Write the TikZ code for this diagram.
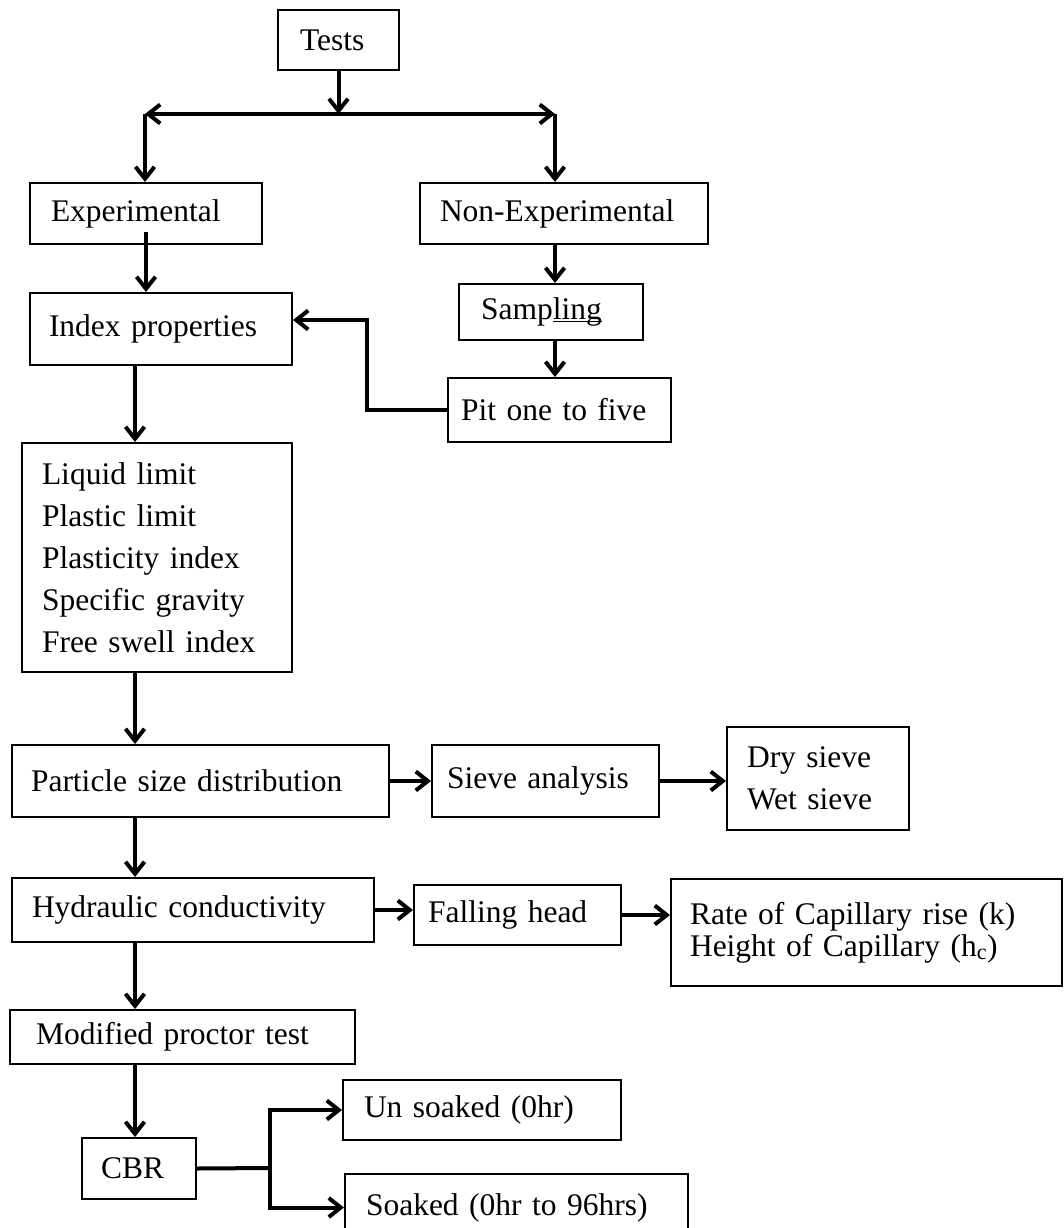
\documentclass[tikz,border=0pt]{standalone}
\usepackage{fontspec}
\setmainfont{Liberation Serif}
\usetikzlibrary{arrows.meta}

\newsavebox{\ulbox}
\newcommand{\ulpart}[1]{\sbox{\ulbox}{#1}\rlap{\rule[-2.5pt]{\wd\ulbox}{0.8pt}}\usebox{\ulbox}}

\tikzset{
  box/.style={draw, line width=2pt, anchor=north west, align=left, inner ysep=0pt},
  arr/.style={line width=4pt, -{Straight Barb[length=12pt,width=19pt]}},
  dbl/.style={line width=4pt, {Straight Barb[length=12pt,width=19pt]}-{Straight Barb[length=12pt,width=19pt]}},
  link/.style={line width=4pt},
}

\begin{document}
\begin{tikzpicture}[x=1pt, y=-1pt, font=\fontsize{31.5}{42}\selectfont]
    \useasboundingbox (0,0) rectangle (1063,1228);

    % boxes
    \node[box, minimum height=60, text width=77, inner xsep=22] (tests) at (277,9) {Tests};
    \node[box, minimum height=61, text width=190, inner xsep=21] (exper) at (29,182) {Experimental};
    \node[box, minimum height=61, text width=248, inner xsep=20] (nonexp) at (419,182) {Non-Experimental};
    \node[box, minimum height=72, text width=224, inner xsep=19] (index) at (29,292) {Index properties};
    \node[box, minimum height=56, text width=140, inner xsep=22] (samp) at (458,283) {Samp\ulpart{ling}};
    \node[box, minimum height=64, text width=197, inner xsep=13] (pit) at (447,377) {Pit one to five};
    \node[box, minimum height=229, text width=230, inner xsep=20] (list) at (21,442)
        {Liquid limit\\Plastic limit\\Plasticity index\\Specific gravity\\Free swell index};
    \node[box, minimum height=72, text width=339, inner xsep=19] (particle) at (11,744) {Particle size distribution};
    \node[box, minimum height=72, text width=197, inner xsep=15] (sieve) at (431,744) {Sieve analysis};
    \node[box, minimum height=103, text width=142, inner xsep=20] (drywet) at (726,726) {Dry sieve\\Wet sieve};
    \node[box, minimum height=64, text width=322, inner xsep=20] (hyd) at (11,877) {Hydraulic conductivity};
    \node[box, minimum height=60, text width=179, inner xsep=14] (fall) at (413,884) {Falling head};
    \node[box, minimum height=107, text width=353, inner xsep=19, font=\fontsize{31.5}{32}\selectfont] (rate) at (670,878)
        {Rate of Capillary rise (k)\\Height of Capillary (h\textsubscript{c})};
    \node[box, minimum height=54, text width=293, inner xsep=26] (mod) at (9,1009) {Modified proctor test};
    \node[box, minimum height=61, text width=76, inner xsep=19] (cbr) at (81,1137) {CBR};
    \node[box, minimum height=60, text width=236, inner xsep=21] (unsoak) at (342,1079) {Un soaked (0hr)};
    \node[box, minimum height=67, text width=301, inner xsep=21] (soak) at (344,1173) {Soaked (0hr to 96hrs)};

    % helper points
    \coordinate (lft) at (145,114);
    \coordinate (rgt) at (555,114);
    \coordinate (bend) at (367,320);
    \coordinate (spine) at (135,0);
    \coordinate (fork) at (270,1168);

    % top split
    \draw[arr] (tests.south) -- (tests.south |- lft);
    \draw[dbl] (lft) -- (rgt);
    \draw[arr] (lft) -- (lft |- exper.north);
    \draw[arr] (rgt) -- (rgt |- nonexp.north);

    % right branch
    \draw[arr] (nonexp.south -| rgt) -- (samp.north -| rgt);
    \draw[arr] (samp.south -| rgt) -- (pit.north -| rgt);
    \draw[arr] (pit.west) -| (bend) -- (bend -| index.east);

    % main column
    \draw[arr] ([yshift=13pt]exper.south) -- (exper.south |- index.north);
    \draw[arr] (index.south -| spine) -- (list.north -| spine);
    \draw[arr] (list.south -| spine) -- (particle.north -| spine);
    \draw[arr] (particle.south -| spine) -- (hyd.north -| spine);
    \draw[arr] (hyd.south -| spine) -- (mod.north -| spine);
    \draw[arr] (mod.south -| spine) -- (cbr.north -| spine);

    % side branches
    \draw[arr] (particle.east) -- (sieve.west);
    \draw[arr] (sieve.east) -- (sieve.east -| drywet.west);
    \draw[arr] (hyd.east) -- (hyd.east -| fall.west);
    \draw[arr] (fall.east) -- (fall.east -| rate.west);

    % CBR fork
    \draw[link] (cbr.east) -- (fork);
    \draw[arr] (fork) |- (unsoak.west);
    \draw[arr] (fork) |- (soak.west);
\end{tikzpicture}
\end{document}
